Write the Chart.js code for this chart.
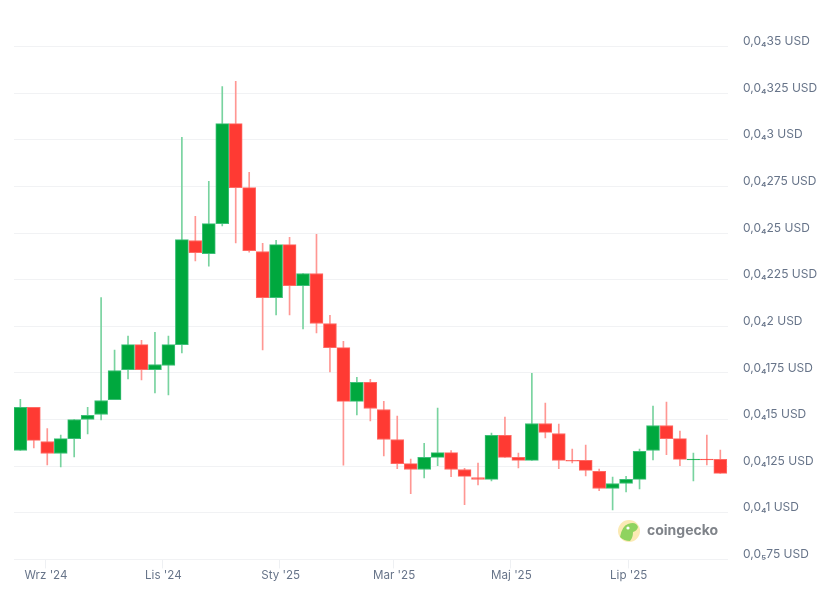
<!DOCTYPE html>
<html><head><meta charset="utf-8">
<style>html,body{margin:0;padding:0;background:#fff}canvas{display:block}</style>
<script src="https://cdn.jsdelivr.net/npm/chart.js@4"></script>
</head><body><canvas id="c" width="833" height="594"></canvas>
<script>
// prices in millionths of a USD
const categories = ['2024-08-19','2024-08-26','2024-09-02','2024-09-09','2024-09-16','2024-09-23','2024-09-30','2024-10-07','2024-10-14','2024-10-21','2024-10-28','2024-11-04','2024-11-11','2024-11-18','2024-11-25','2024-12-02','2024-12-09','2024-12-16','2024-12-23','2024-12-30','2025-01-06','2025-01-13','2025-01-20','2025-01-27','2025-02-03','2025-02-10','2025-02-17','2025-02-24','2025-03-03','2025-03-10','2025-03-17','2025-03-24','2025-03-31','2025-04-07','2025-04-14','2025-04-21','2025-04-28','2025-05-05','2025-05-12','2025-05-19','2025-05-26','2025-06-02','2025-06-09','2025-06-16','2025-06-23','2025-06-30','2025-07-07','2025-07-14','2025-07-21','2025-07-28','2025-08-04','2025-08-11','2025-08-18'];
const open  = [13.34,15.65,13.82,13.18,13.98,15.00,15.27,16.07,17.68,19.02,17.68,17.90,19.02,24.60,23.90,25.51,30.87,27.44,24.01,21.54,24.38,22.18,22.83,20.15,18.86,15.97,16.99,15.54,13.93,12.64,12.32,12.97,13.23,12.32,11.89,11.79,14.15,12.97,12.81,14.79,14.25,12.81,12.81,12.22,11.30,11.57,11.79,13.34,14.68,13.98,12.84,12.88,12.86];
const close = [15.65,13.88,13.18,13.98,15.00,15.22,16.02,17.63,19.02,17.68,17.95,19.02,24.65,23.95,25.51,30.87,27.44,24.06,21.54,24.38,22.18,22.83,20.15,18.86,15.97,16.99,15.59,13.93,12.64,12.32,12.97,13.23,12.32,11.95,11.79,14.15,12.97,12.81,14.79,14.31,12.81,12.77,12.27,11.30,11.57,11.79,13.29,14.68,13.98,12.86,12.88,12.84,12.11];
const high  = [16.09,15.65,14.52,14.16,15.00,15.66,21.54,18.72,19.47,19.25,19.68,19.47,30.13,25.90,27.77,32.86,33.13,28.26,24.45,24.61,24.77,22.83,24.93,20.59,19.20,17.27,17.16,15.98,15.18,12.88,13.73,15.61,13.34,12.38,12.66,14.27,15.13,13.20,17.48,15.88,14.75,13.41,13.63,12.34,11.91,11.96,13.41,15.72,15.93,14.38,13.20,14.16,13.36];
const low   = [13.34,13.48,12.57,12.46,13.00,14.23,14.98,16.07,17.18,17.12,16.43,16.32,18.57,23.50,23.23,25.38,24.47,23.98,18.73,20.61,20.61,19.86,19.64,17.55,12.55,15.25,14.93,13.05,12.36,11.02,11.87,12.52,11.93,10.43,11.50,11.71,12.97,12.41,12.81,14.02,12.36,12.68,11.98,11.18,10.16,11.12,11.28,12.84,13.11,12.52,11.71,12.57,12.11];
const yTickValues = [7.5,10,12.5,15,17.5,20,22.5,25,27.5,30,32.5,35];
const yTickLabels = ['0,0₅75 USD','0,0₄1 USD','0,0₄125 USD','0,0₄15 USD','0,0₄175 USD','0,0₄2 USD','0,0₄225 USD','0,0₄25 USD','0,0₄275 USD','0,0₄3 USD','0,0₄325 USD','0,0₄35 USD'];
const xTickDates  = ['2024-09-01','2024-11-01','2025-01-01','2025-03-01','2025-05-01','2025-07-01'];
const xTickLabels = ["Wrz '24","Lis '24","Sty '25","Mar '25","Maj '25","Lip '25"];
const brand = 'coingecko';

const day = s => Date.parse(s + 'T00:00:00Z') / 864e5;
const up = categories.map((_, i) => close[i] >= open[i]);
const pick = (a, b) => up.map(u => u ? a : b);
const GREEN = '#00a83e', RED = '#ff3a33';

const logo = { id: 'logo', afterDraw(ch) {
  const c = ch.ctx; c.save();
  c.fillStyle = '#fbeab4'; c.beginPath(); c.arc(629, 531, 11, 0, Math.PI*2); c.fill();
  c.fillStyle = '#8fd35f'; c.beginPath();
  c.moveTo(620,537); c.quadraticCurveTo(622,526,628,524); c.quadraticCurveTo(636,521,638,527);
  c.quadraticCurveTo(637,531,633,532); c.quadraticCurveTo(633,538,630,541); c.quadraticCurveTo(624,541,620,537); c.fill();
  c.fillStyle = '#fff'; c.beginPath(); c.arc(628, 528, 1.6, 0, Math.PI*2); c.fill();
  c.fillStyle = '#7f8389'; c.font = '700 14px Inter, sans-serif'; c.textBaseline = 'middle'; c.textAlign = 'left';
  c.fillText(brand, 647, 531);
  c.restore();
}};

new Chart(document.getElementById('c'), {
  type: 'bar',
  data: { datasets: [
    { label:'body', order:1, grouped:false, barThickness:13, borderWidth:1, borderSkipped:false,
      backgroundColor: pick(GREEN, RED), borderColor: pick('#3dbf78','#ff6a64'),
      data: categories.map((d,i)=>({x:day(d), y:[open[i],close[i]]})) },
    { label:'wick', order:2, grouped:false, barThickness:1, borderWidth:0,
      backgroundColor: pick('#78d39f','#ff9793'),
      data: categories.map((d,i)=>({x:day(d), y:[low[i],high[i]]})) }
  ]},
  options: {
    responsive:false, animation:false,
    layout:{ padding:{ left:14, top:46.58, right:0, bottom:0 } },
    plugins:{ legend:{display:false}, tooltip:{enabled:false} },
    scales:{
      x:{ type:'linear', offset:false, min:day(categories[0])-3.3, max:day(categories[categories.length-1])+4,
        afterBuildTicks(s){ s.ticks = xTickDates.map(d=>({value:day(d)})); },
        afterFit(s){ s.height = 34.6; },
        border:{display:false},
        grid:{ offset:false, drawOnChartArea:false, drawTicks:true, tickLength:9, color:'#eef0f3' },
        ticks:{ autoSkip:false, maxRotation:0, padding:0, labelOffset:0.7, color:'#677489', font:{family:'Inter',size:11.6},
          callback(v){ return xTickLabels[xTickDates.findIndex(d=>day(d)===v)]; } } },
      y:{ position:'right', min:7.5, max:35,
        afterBuildTicks(s){ s.ticks = yTickValues.map(v=>({value:v})); },
        afterFit(s){ s.width = 105; },
        border:{display:false},
        grid:{ drawTicks:false, color:'#f1f2f4' },
        ticks:{ padding:15, labelOffset:-5, color:'#677489', font:{family:'Inter',size:12},
          callback(v){ return yTickLabels[yTickValues.indexOf(v)]; } } }
    }
  },
  plugins:[logo]
});
</script></body></html>
